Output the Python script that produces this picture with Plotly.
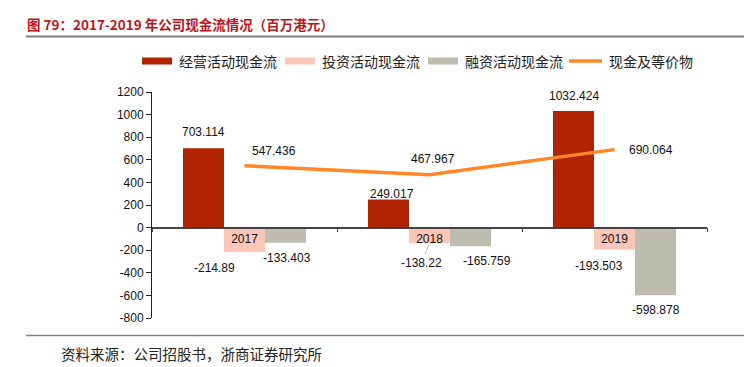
import plotly.graph_objects as go

# ---- data ----
years = ["2017", "2018", "2019"]
operating = [703.114, 249.017, 1032.424]
investing = [-214.89, -138.22, -193.503]
financing = [-133.403, -165.759, -598.878]
cash_eq = [547.436, 467.967, 690.064]
y_ticks = [-800, -600, -400, -200, 0, 200, 400, 600, 800, 1000, 1200]
names = ["经营活动现金流", "投资活动现金流", "融资活动现金流", "现金及等价物"]
title_text = "图 79：2017-2019 年公司现金流情况（百万港元）"
source_text = "资料来源：公司招股书，浙商证券研究所"

# ---- style ----
C_RED = "#B02300"
C_PINK = "#FDC6B7"
C_GRAY = "#BCBCB1"
C_ORANGE = "#FF8726"
NUM_FONT = "Liberation Sans, Arial, sans-serif"
CJK_FONT = "Noto Sans CJK SC, sans-serif"

W, H = 744, 367
L, R, T, B = 152, 37, 92, 49
PW, PH = W - L - R, H - T - B


def px(x):
    return (x - L) / PW


def py(y):
    return (H - B - y) / PH


fig = go.Figure()
fig.add_bar(x=years, y=operating, name=names[0], marker_color=C_RED, marker_line_width=0)
fig.add_bar(x=years, y=investing, name=names[1], marker_color=C_PINK, marker_line_width=0)
fig.add_bar(x=years, y=financing, name=names[2], marker_color=C_GRAY, marker_line_width=0)
fig.add_scatter(x=years, y=cash_eq, name=names[3], mode="lines",
                line=dict(color=C_ORANGE, width=3.5))

annotations = []
lab = dict(showarrow=False, font=dict(family=NUM_FONT, size=12, color="#111"))
# operating labels (above red bar, which sits left of center)
op_shift = [(0, 16), (3, 5), (0, 15)]
for i, (v, (dx, dy)) in enumerate(zip(operating, op_shift)):
    annotations.append(dict(x=i, y=v, text=f"{v}", xshift=-41 + dx, yshift=dy, **lab))
# investing labels (below pink bar)
inv_shift = [(-30, -16), (-8, -20), (-16, -17)]
for i, (v, (dx, dy)) in enumerate(zip(investing, inv_shift)):
    if i == 1:
        annotations.append(dict(x=i, y=v, text=f"{v}", showarrow=True, arrowhead=0,
                                arrowwidth=0.6, arrowcolor="#888", ax=dx, ay=-dy,
                                standoff=2, font=dict(family=NUM_FONT, size=12, color="#111")))
    else:
        annotations.append(dict(x=i, y=v, text=f"{v}", xshift=dx, yshift=dy, **lab))
# financing labels (below gray bar right of center)
fin_shift = [(1, -15), (16, -15), (0, -15)]
for i, (v, (dx, dy)) in enumerate(zip(financing, fin_shift)):
    annotations.append(dict(x=i, y=v, text=f"{v}", xshift=41 + dx, yshift=dy, **lab))
# cash equivalents labels
ce_shift = [(29, 15), (3, 16), (36, 0)]
for i, (v, (dx, dy)) in enumerate(zip(cash_eq, ce_shift)):
    annotations.append(dict(x=i, y=v, text=f"{v}", xshift=dx, yshift=dy, **lab))

# title, source
annotations.append(dict(xref="paper", yref="paper", x=px(25), y=py(24), xanchor="left",
                        yanchor="middle", showarrow=False, text=f"<b>{title_text}</b>",
                        font=dict(family=CJK_FONT, size=13.5, color="#C0141C")))
annotations.append(dict(xref="paper", yref="paper", x=px(59), y=py(353), xanchor="left",
                        yanchor="middle", showarrow=False, text=source_text,
                        font=dict(family=CJK_FONT, size=14.5, color="#222")))

shapes = [
    dict(type="line", xref="paper", yref="paper", x0=px(26), x1=px(744), y0=py(36.5), y1=py(36.5),
         line=dict(color="#7F7F7F", width=2)),
    dict(type="line", xref="paper", yref="paper", x0=px(26), x1=px(744), y0=py(335.5), y1=py(335.5),
         line=dict(color="#7F7F7F", width=1.5)),
]

# manual legend
leg_y = 61
leg_items = [(142, 172, C_RED, "bar", names[0]),
             (285, 315, C_PINK, "bar", names[1]),
             (428, 458, C_GRAY, "bar", names[2]),
             (569, 602, C_ORANGE, "line", names[3])]
for x0, x1, col, kind, nm in leg_items:
    if kind == "bar":
        shapes.append(dict(type="rect", xref="paper", yref="paper", x0=px(x0), x1=px(x1),
                           y0=py(leg_y + 3.5), y1=py(leg_y - 3.5), fillcolor=col, line_width=0))
    else:
        shapes.append(dict(type="line", xref="paper", yref="paper", x0=px(x0), x1=px(x1),
                           y0=py(leg_y), y1=py(leg_y), line=dict(color=col, width=3.5)))
    annotations.append(dict(xref="paper", yref="paper", x=px(x1 + 5), y=py(leg_y),
                            xanchor="left", yanchor="middle", showarrow=False, text=nm,
                            font=dict(family=CJK_FONT, size=14, color="#222")))

fig.update_layout(
    width=W, height=H,
    margin=dict(l=L, r=R, t=T, b=B),
    paper_bgcolor="white", plot_bgcolor="white",
    barmode="group", bargap=0.335, bargroupgap=0,
    showlegend=False,
    annotations=annotations, shapes=shapes,
    font=dict(family=NUM_FONT, size=12, color="#111"),
)
fig.update_yaxes(range=[-800, 1200], tickmode="array", tickvals=y_ticks,
                 ticktext=[str(t) for t in y_ticks], showgrid=False, zeroline=False,
                 showline=True, linecolor="#222", linewidth=1, ticks="outside",
                 ticklen=5, tickcolor="#222", tickfont=dict(family=NUM_FONT, size=12, color="#111"))
fig.update_xaxes(type="category", range=[-0.5, 2.5], anchor="free", position=0.4, showgrid=False,
                 showline=True, linecolor="#444", linewidth=1.5, ticks="outside",
                 tickson="boundaries", ticklen=4, tickcolor="#444", tickangle=0,
                 tickfont=dict(family=NUM_FONT, size=12, color="#111"), layer="above traces")

fig.write_html("out.html", config={"displayModeBar": False},
               post_script="document.body.style.margin='0';")
